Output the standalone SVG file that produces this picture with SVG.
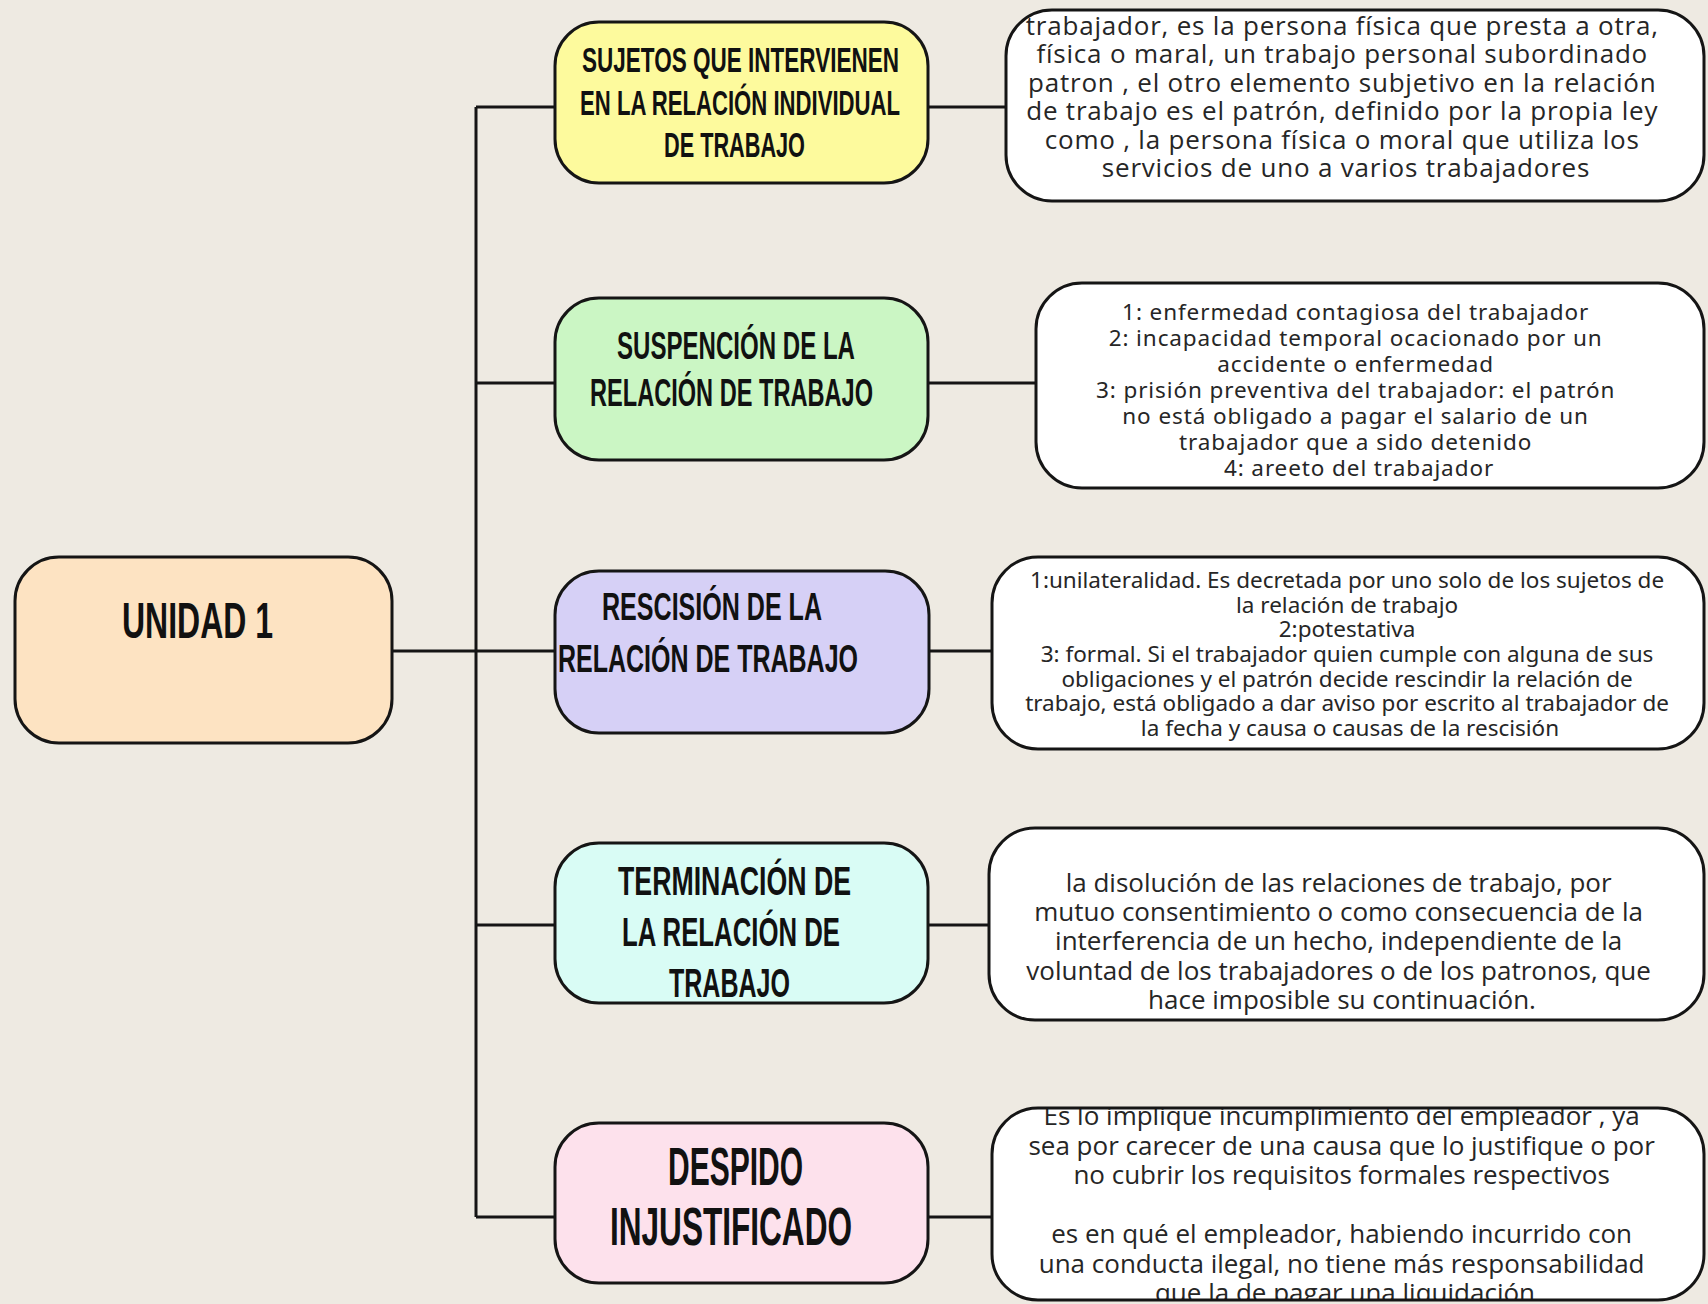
<svg xmlns="http://www.w3.org/2000/svg" width="1708" height="1304" viewBox="0 0 1708 1304">
<style>
.bg{fill:#eeeae2}
.node{stroke:#151515;stroke-width:3}
.edge{stroke:#151515;stroke-width:3;fill:none}
.title{font-family:"Liberation Sans",Arial,sans-serif;font-weight:bold;fill:#111;text-anchor:start}
.body{font-family:"Open Sans","Noto Sans",sans-serif;font-size:26px;fill:#262626;text-anchor:middle}
.list{font-family:"Noto Sans","Open Sans",sans-serif;font-size:22.5px;fill:#262626;text-anchor:middle}
.white{fill:#ffffff}
.outline{fill:none;stroke:#151515;stroke-width:3}
</style>
<defs>
<clipPath id="c1"><rect x="1006" y="10" width="698" height="191" rx="46"/></clipPath>
<clipPath id="c2"><rect x="1036" y="283" width="668" height="205" rx="46"/></clipPath>
<clipPath id="c3"><rect x="992" y="557" width="712" height="192" rx="46"/></clipPath>
<clipPath id="c4"><rect x="989" y="828" width="715" height="192" rx="46"/></clipPath>
<clipPath id="c5"><rect x="992" y="1108" width="712" height="192" rx="46"/></clipPath>
</defs>
<rect class="bg" x="0" y="0" width="1708" height="1304"/>

<g id="connectors">
<path class="edge" d="M476 107 V1217"/>
<path class="edge" d="M392 651 H555"/>
<path class="edge" d="M476 107 H555"/>
<path class="edge" d="M476 383 H555"/>
<path class="edge" d="M476 925 H555"/>
<path class="edge" d="M476 1217 H555"/>
<path class="edge" d="M928 107 H1006"/>
<path class="edge" d="M928 383 H1036"/>
<path class="edge" d="M928 651 H992"/>
<path class="edge" d="M928 925 H989"/>
<path class="edge" d="M928 1217 H992"/>
</g>

<g id="unidad1">
<rect class="node" x="15" y="557" width="377" height="186" rx="44" fill="#fde3c2"/>
<text class="title" x="122" y="638" font-size="50" textLength="151" lengthAdjust="spacingAndGlyphs">UNIDAD 1</text>
</g>

<g id="sujetos">
<rect class="node" x="555" y="22" width="373" height="161" rx="44" fill="#fdfa9d"/>
<text class="title" font-size="35"><tspan x="582" y="72" textLength="317" lengthAdjust="spacingAndGlyphs">SUJETOS QUE INTERVIENEN</tspan></text>
<text class="title" font-size="35"><tspan x="580" y="115" textLength="320" lengthAdjust="spacingAndGlyphs">EN LA RELACIÓN INDIVIDUAL</tspan></text>
<text class="title" font-size="35"><tspan x="664" y="157" textLength="141" lengthAdjust="spacingAndGlyphs">DE TRABAJO</tspan></text>
</g>

<g id="suspencion">
<rect class="node" x="555" y="298" width="373" height="162" rx="44" fill="#cbf6c4"/>
<text class="title" font-size="38"><tspan x="617" y="359" textLength="238" lengthAdjust="spacingAndGlyphs">SUSPENCIÓN DE LA</tspan></text>
<text class="title" font-size="38"><tspan x="590" y="406" textLength="283" lengthAdjust="spacingAndGlyphs">RELACIÓN DE TRABAJO</tspan></text>
</g>

<g id="rescision">
<rect class="node" x="555" y="571" width="374" height="162" rx="44" fill="#d6d0f6"/>
<text class="title" font-size="39"><tspan x="602" y="620" textLength="220" lengthAdjust="spacingAndGlyphs">RESCISIÓN DE LA</tspan></text>
<text class="title" font-size="39"><tspan x="558" y="672" textLength="300" lengthAdjust="spacingAndGlyphs">RELACIÓN DE TRABAJO</tspan></text>
</g>

<g id="terminacion">
<rect class="node" x="555" y="843" width="373" height="160" rx="44" fill="#d9fcf5"/>
<text class="title" font-size="40"><tspan x="618" y="895" textLength="233" lengthAdjust="spacingAndGlyphs">TERMINACIÓN DE</tspan></text>
<text class="title" font-size="40"><tspan x="622" y="946" textLength="218" lengthAdjust="spacingAndGlyphs">LA RELACIÓN DE</tspan></text>
<text class="title" font-size="40"><tspan x="669" y="997" textLength="121" lengthAdjust="spacingAndGlyphs">TRABAJO</tspan></text>
</g>

<g id="despido">
<rect class="node" x="555" y="1123" width="373" height="160" rx="44" fill="#fde1ec"/>
<text class="title" font-size="54"><tspan x="668" y="1185" textLength="135" lengthAdjust="spacingAndGlyphs">DESPIDO</tspan></text>
<text class="title" font-size="54"><tspan x="610" y="1245" textLength="242" lengthAdjust="spacingAndGlyphs">INJUSTIFICADO</tspan></text>
</g>

<g id="def-sujetos">
<rect class="white" x="1006" y="10" width="698" height="191" rx="46"/>
<g clip-path="url(#c1)">
<text class="body" font-size="28" letter-spacing="0.8">
<tspan x="1346" y="35">trabajador, es la persona física que presta a otra,</tspan>
<tspan x="1346" y="63">física o maral, un trabajo personal subordinado</tspan>
<tspan x="1346" y="92">patron , el otro elemento subjetivo en la relación</tspan>
<tspan x="1346" y="120">de trabajo es el patrón, definido por la propia ley</tspan>
<tspan x="1346" y="149">como , la persona física o moral que utiliza los</tspan>
<tspan x="1346" y="177">servicios de uno a varios trabajadores</tspan>
</text>
</g>
<rect class="outline" x="1006" y="10" width="698" height="191" rx="46"/>
</g>

<g id="def-suspencion">
<rect class="white" x="1036" y="283" width="668" height="205" rx="46"/>
<g clip-path="url(#c2)">
<text class="list" font-size="23.5" letter-spacing="0.9">
<tspan x="1359" y="320">1: enfermedad contagiosa del trabajador</tspan>
<tspan x="1359" y="346">2: incapacidad temporal ocacionado por un</tspan>
<tspan x="1359" y="372">accidente o enfermedad</tspan>
<tspan x="1359" y="398">3: prisión preventiva del trabajador: el patrón</tspan>
<tspan x="1359" y="424">no está obligado a pagar el salario de un</tspan>
<tspan x="1359" y="450">trabajador que a sido detenido</tspan>
<tspan x="1359" y="476">4: areeto del trabajador</tspan>
</text>
</g>
<rect class="outline" x="1036" y="283" width="668" height="205" rx="46"/>
</g>

<g id="def-rescision">
<rect class="white" x="992" y="557" width="712" height="192" rx="46"/>
<g clip-path="url(#c3)">
<text class="list">
<tspan x="1350" y="588">1:unilateralidad. Es decretada por uno solo de los sujetos de</tspan>
<tspan x="1350" y="613">la relación de trabajo</tspan>
<tspan x="1350" y="637">2:potestativa</tspan>
<tspan x="1350" y="662">3: formal. Si el trabajador quien cumple con alguna de sus</tspan>
<tspan x="1350" y="687">obligaciones y el patrón decide rescindir la relación de</tspan>
<tspan x="1350" y="711">trabajo, está obligado a dar aviso por escrito al trabajador de</tspan>
<tspan x="1350" y="736">la fecha y causa o causas de la rescisión</tspan>
</text>
</g>
<rect class="outline" x="992" y="557" width="712" height="192" rx="46"/>
</g>

<g id="def-terminacion">
<rect class="white" x="989" y="828" width="715" height="192" rx="46"/>
<g clip-path="url(#c4)">
<text class="body">
<tspan x="1342" y="892">la disolución de las relaciones de trabajo, por</tspan>
<tspan x="1342" y="921">mutuo consentimiento o como consecuencia de la</tspan>
<tspan x="1342" y="950">interferencia de un hecho, independiente de la</tspan>
<tspan x="1342" y="980">voluntad de los trabajadores o de los patronos, que</tspan>
<tspan x="1342" y="1009">hace imposible su continuación.</tspan>
</text>
</g>
<rect class="outline" x="989" y="828" width="715" height="192" rx="46"/>
</g>

<g id="def-despido">
<rect class="white" x="992" y="1108" width="712" height="192" rx="46"/>
<g clip-path="url(#c5)">
<text class="body">
<tspan x="1345" y="1125">Es lo implique incumplimiento del empleador , ya</tspan>
<tspan x="1345" y="1155">sea por carecer de una causa que lo justifique o por</tspan>
<tspan x="1345" y="1184">no cubrir los requisitos formales respectivos</tspan>
<tspan x="1345" y="1243">es en qué el empleador, habiendo incurrido con</tspan>
<tspan x="1345" y="1273">una conducta ilegal, no tiene más responsabilidad</tspan>
<tspan x="1345" y="1302">que la de pagar una liquidación</tspan>
</text>
</g>
<rect class="outline" x="992" y="1108" width="712" height="192" rx="46"/>
</g>
</svg>
